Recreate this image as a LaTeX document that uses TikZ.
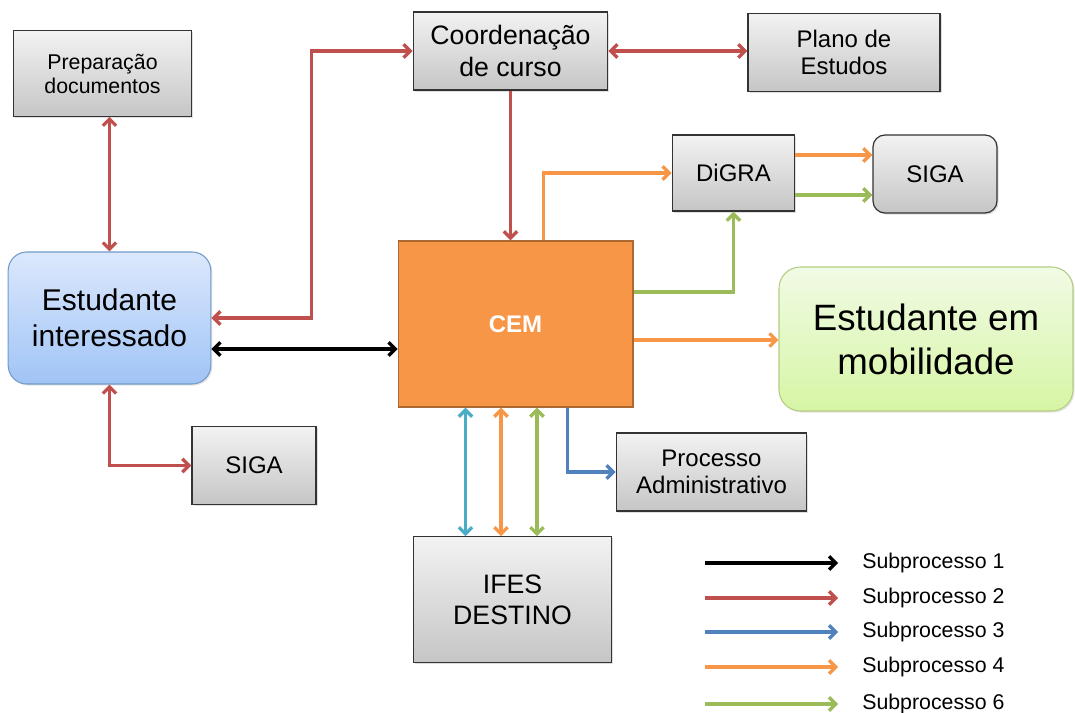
\documentclass[tikz,border=0pt]{standalone}
\usepackage{fontspec}
\setmainfont{Liberation Sans}
\usetikzlibrary{calc}
\usetikzlibrary{arrows.meta}
\usetikzlibrary{shadows}

\definecolor{subA}{HTML}{C0504D}
\definecolor{subB}{HTML}{4F81BD}
\definecolor{subC}{HTML}{4BACC6}
\definecolor{subD}{HTML}{F79646}
\definecolor{subE}{HTML}{9BBB59}

\begin{document}
\begin{tikzpicture}[x=0.75pt, y=-0.75pt,
  graybox/.style={draw=black!80, line width=0.9pt, top color=gray!10, bottom color=gray!45,
    drop shadow={opacity=0.25, shadow xshift=1.2pt, shadow yshift=-1.2pt},
    align=center, inner sep=0pt},
  bluebox/.style={draw=subB!80, line width=0.8pt, rounded corners=14pt, top color={rgb,255:red,220;green,232;blue,252},
    bottom color={rgb,255:red,160;green,196;blue,246}, drop shadow={opacity=0.2, shadow xshift=1.2pt, shadow yshift=-1.2pt},
    align=center, inner sep=0pt},
  greenbox/.style={draw=subE!75, line width=0.8pt, rounded corners=16pt, top color={rgb,255:red,241;green,251;blue,229},
    bottom color={rgb,255:red,214;green,245;blue,164}, drop shadow={opacity=0.2, shadow xshift=1.2pt, shadow yshift=-1.2pt},
    align=center, inner sep=0pt},
  link/.style={line width=2.5pt, arrows={-Straight Barb[length=5pt, width=10pt]}},
  twoway/.style={line width=2.5pt, arrows={Straight Barb[length=5pt, width=10pt]-Straight Barb[length=5pt, width=10pt]}},
  small/.style={font=\fontsize{16}{18}\selectfont},
  mid/.style={font=\fontsize{18}{20.5}\selectfont},
  big/.style={font=\fontsize{20}{23.5}\selectfont}
]
\useasboundingbox (0,0) rectangle (1075,713);

\node[graybox, small, minimum width=134pt, minimum height=64pt] (prep) at (102.5,73.5) {Preparação\\documentos};
\node[graybox, big, minimum width=146pt, minimum height=58.5pt] (coord) at (510.5,51) {Coordenação\\de curso};
\node[graybox, mid, minimum width=144pt, minimum height=59pt] (plano) at (844,52.5) {Plano de\\Estudos};
\node[graybox, mid, minimum width=92pt, minimum height=57pt] (digra) at (733.5,173) {DiGRA};
\node[graybox, mid, rounded corners=9pt, minimum width=93pt, minimum height=58.5pt] (sigaR) at (935,174) {SIGA};
\node[bluebox, font=\fontsize{22.5}{27}\selectfont, minimum width=152pt, minimum height=99pt] (est) at (109.5,318) {Estudante\\interessado};
\node[draw=subD!70!black, line width=1pt, fill=subD, text=white, font=\fontsize{18}{20}\selectfont\bfseries,
  minimum width=176pt, minimum height=124.5pt] (cem) at (515.5,324) {CEM};
\node[greenbox, font=\fontsize{27.5}{33}\selectfont, minimum width=220.5pt, minimum height=108pt] (mob) at (926,339) {Estudante em\\mobilidade};
\node[graybox, mid, minimum width=93pt, minimum height=58pt] (sigaL) at (254,465.5) {SIGA};
\node[graybox, mid, minimum width=143pt, minimum height=58.5pt] (proc) at (711.5,472) {Processo\\Administrativo};
\node[graybox, big, minimum width=149pt, minimum height=94pt] (ifes) at (512.5,599.5) {IFES\\DESTINO};

\draw[twoway, subA] (est.north |- prep.south) -- (est.north);
\draw[twoway, subA] (est.east) -| ($(coord.west)+(-101,0)$) -- (coord.west);
\draw[link, subA] (coord.south) -- (coord.south |- cem.north);
\draw[twoway, subA] (coord.east) -- (coord.east -| plano.west);
\draw[twoway, subA] (est.south) |- (sigaL.west);

\coordinate (b1) at ($(est.east)+(0,31)$);
\draw[twoway, black] (b1) -- (b1 -| cem.west);

\coordinate (o1) at ($(cem.north)+(28,0)$);
\draw[link, subD] (o1) |- (digra.west);
\coordinate (o2) at ($(digra.east)+(0,-18)$);
\draw[link, subD] (o2) -- (o2 -| sigaR.west);
\coordinate (g2) at ($(digra.east)+(0,22)$);
\draw[link, subE] (g2) -- (g2 -| sigaR.west);
\coordinate (g1) at ($(cem.east)+(0,-32)$);
\draw[link, subE] (g1) -| (digra.south);
\coordinate (o3) at ($(cem.east)+(0,16)$);
\draw[link, subD] (o3) -- (o3 -| mob.west);

\coordinate (p1) at ($(cem.south)+(52,0)$);
\draw[link, subB] (p1) |- (proc.west);
\foreach \c/\dx [count=\i] in {subC/-50, subD/-14.5, subE/21.5} {
  \coordinate (d\i) at ($(cem.south)+(\dx,0)$);
  \draw[twoway, \c] (d\i) -- (d\i |- ifes.north);
}

\foreach \c/\y/\t in {black/563/1, subA/598/2, subB/632/3, subD/667/4, subE/704/6} {
  \coordinate (leg\t) at (705,\y);
  \draw[link, \c] (leg\t) -- ++(133,0);
  \node[small, anchor=west, inner sep=0pt] (lab\t) at (862,\y) {Subprocesso \t};
}

\end{tikzpicture}
\end{document}
